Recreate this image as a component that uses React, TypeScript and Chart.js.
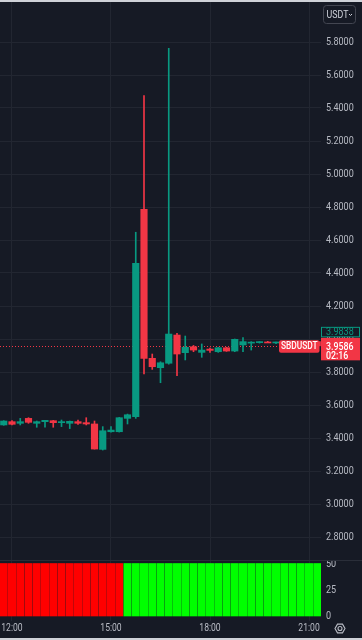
import React, { useEffect, useRef } from "react";
import { Chart, registerables } from "chart.js";
Chart.register(...registerables);

// ---- data ----
const CANDLE_INDEX = [-1, 0, 1, 2, 3, 4, 5, 6, 7, 8, 9, 10, 11, 12, 13, 14, 15, 16, 17, 18, 19, 20, 21, 22, 23, 24, 25, 26, 27, 28, 29, 30, 31, 32, 33, 34, 35, 36, 37];
const OPEN = [3.479, 3.499, 3.489, 3.519, 3.489, 3.499, 3.505, 3.493, 3.489, 3.499, 3.493, 3.485, 3.331, 3.438, 3.438, 3.519, 3.529, 4.786, 3.883, 3.826, 3.853, 4.024, 3.917, 3.953, 3.919, 3.939, 3.923, 3.947, 3.927, 3.964, 3.975, 3.978, 3.982, 3.976, 3.98, 3.975, 3.981, 3.978, 3.984];
const HIGH = [3.505, 3.505, 3.519, 3.523, 3.503, 3.507, 3.507, 3.509, 3.503, 3.509, 3.523, 3.503, 3.469, 3.469, 3.525, 3.545, 4.647, 5.475, 3.909, 3.862, 5.762, 4.034, 4.018, 3.961, 3.97, 3.945, 3.95, 3.95, 4.0, 4.008, 3.984, 3.984, 3.986, 3.982, 3.985, 3.984, 3.988, 3.986, 3.988];
const LOW = [3.477, 3.479, 3.479, 3.489, 3.465, 3.465, 3.465, 3.469, 3.457, 3.483, 3.479, 3.333, 3.327, 3.436, 3.436, 3.485, 3.519, 3.788, 3.816, 3.735, 3.848, 3.778, 3.873, 3.923, 3.889, 3.919, 3.919, 3.925, 3.923, 3.923, 3.933, 3.975, 3.978, 3.972, 3.97, 3.968, 3.972, 3.97, 3.955];
const CLOSE = [3.503, 3.483, 3.499, 3.495, 3.499, 3.507, 3.493, 3.497, 3.501, 3.489, 3.485, 3.333, 3.444, 3.448, 3.523, 3.541, 4.459, 3.883, 3.832, 3.856, 4.03, 3.909, 3.95, 3.933, 3.933, 3.931, 3.947, 3.927, 3.998, 3.984, 3.978, 3.981, 3.976, 3.98, 3.975, 3.981, 3.978, 3.9838, 3.9586];
const PRICE_TICKS = [2.8, 3.0, 3.2, 3.4, 3.6, 3.8, 4.0, 4.2, 4.4, 4.6, 4.8, 5.0, 5.2, 5.4, 5.6, 5.8];
const TIME_TICK_INDEX = [0, 12, 24, 36];
const TIME_LABELS = ["12:00", "15:00", "18:00", "21:00"];
const IND_VALUE = [50, 50, 50, 50, 50, 50, 50, 50, 50, 50, 50, 50, 50, 50, 50, 50, 50, 50, 50, 50, 50, 50, 50, 50, 50, 50, 50, 50, 50, 50, 50, 50, 50, 50, 50, 50, 50, 50, 50];
const IND_STATE = [-1, -1, -1, -1, -1, -1, -1, -1, -1, -1, -1, -1, -1, -1, -1, 1, 1, 1, 1, 1, 1, 1, 1, 1, 1, 1, 1, 1, 1, 1, 1, 1, 1, 1, 1, 1, 1, 1, 1];
const IND_TICKS = [0, 25, 50];
const LAST_PRICE = 3.9586;
const PREV_PRICE = 3.9838;
const COUNTDOWN = "02:16";
const SYMBOL = "SBDUSDT";
const CURRENCY = "USDT";

// ---- style ----
const BG = "#161a25";
const GRID = "#222631";
const TXT = "#b8bbc4";
const UP = "#089981";
const DOWN = "#f23645";
const FONT = "Roboto, 'Liberation Sans', sans-serif";

const X_MIN = -1.4545;
const X_MAX = 37.4545;

function rr(ctx: CanvasRenderingContext2D, x: number, y: number, w: number, h: number, r: number) {
  ctx.beginPath();
  ctx.moveTo(x + r, y);
  ctx.lineTo(x + w - r, y);
  ctx.arcTo(x + w, y, x + w, y + r, r);
  ctx.lineTo(x + w, y + h - r);
  ctx.arcTo(x + w, y + h, x + w - r, y + h, r);
  ctx.lineTo(x + r, y + h);
  ctx.arcTo(x, y + h, x, y + h - r, r);
  ctx.lineTo(x, y + r);
  ctx.arcTo(x, y, x + r, y, r);
  ctx.closePath();
}

// draws text with a horizontal squeeze (sx) around the anchor point
function txt(ctx: CanvasRenderingContext2D, s: string, x: number, y: number, font: string, color: string, align: CanvasTextAlign, sx: number) {
  ctx.save();
  ctx.font = font;
  ctx.fillStyle = color;
  ctx.textAlign = align;
  ctx.textBaseline = "middle";
  ctx.translate(x, y);
  ctx.scale(sx, 1);
  ctx.fillText(s, 0, 0);
  ctx.restore();
}

const mainOverlay = {
  id: "mainOverlay",
  beforeDatasetsDraw(chart: any) {
    const ctx = chart.ctx as CanvasRenderingContext2D;
    const y = Math.round(chart.scales.y.getPixelForValue(LAST_PRICE)) + 0.5;
    ctx.save();
    ctx.strokeStyle = DOWN;
    ctx.lineWidth = 1;
    ctx.setLineDash([1, 2]);
    ctx.beginPath();
    ctx.moveTo(0, y);
    ctx.lineTo(279, y);
    ctx.stroke();
    ctx.restore();
  },
  afterDraw(chart: any) {
    const ctx = chart.ctx as CanvasRenderingContext2D;
    const ys = chart.scales.y;
    // axis tick labels (from the axis ticks)
    ys.ticks.forEach((t: any, k: number) => {
      const lbl = ys._labelItems ? null : null;
      const y = ys.getPixelForValue(t.value);
      txt(ctx, Number(t.value).toFixed(4), 326, y + 0.5, `10.5px ${FONT}`, TXT, "left", 0.86);
    });
    const yl = ys.getPixelForValue(LAST_PRICE);
    ctx.save();
    // symbol tag
    ctx.fillStyle = DOWN;
    rr(ctx, 279, yl - 5.5, 40.5, 12.5, 2);
    ctx.fill();
    txt(ctx, SYMBOL, 299.3, yl + 0.9, `500 11px ${FONT}`, "#ffffff", "center", 0.76);
    // prev price box
    ctx.fillStyle = BG;
    ctx.fillRect(321, yl - 19, 39, 10);
    ctx.strokeStyle = UP;
    ctx.lineWidth = 1;
    ctx.strokeRect(321.5, yl - 18.5, 38, 9.5);
    txt(ctx, PREV_PRICE.toFixed(4), 326, yl - 13.3, `10.5px ${FONT}`, UP, "left", 0.86);
    // last price box
    ctx.fillStyle = DOWN;
    ctx.fillRect(321, yl - 8, 39, 22.5);
    txt(ctx, LAST_PRICE.toFixed(4), 326, yl + 1.4, `500 10.5px ${FONT}`, "#ffffff", "left", 0.84);
    txt(ctx, COUNTDOWN, 326, yl + 10.2, `500 10.5px ${FONT}`, "#ffffff", "left", 0.84);
    // currency button
    ctx.strokeStyle = "#434651";
    ctx.lineWidth = 1;
    rr(ctx, 323.5, 5.5, 32, 18, 3);
    ctx.stroke();
    txt(ctx, CURRENCY, 326.5, 15, `10.5px ${FONT}`, "#d1d4dc", "left", 0.84);
    ctx.strokeStyle = "#d1d4dc";
    ctx.beginPath();
    ctx.moveTo(349, 14);
    ctx.lineTo(350.5, 15.5);
    ctx.lineTo(352, 14);
    ctx.stroke();
    ctx.restore();
  },
};

const indOverlay = {
  id: "indOverlay",
  afterDraw(chart: any) {
    const ctx = chart.ctx as CanvasRenderingContext2D;
    const xs = chart.scales.x;
    const ys = chart.scales.y;
    xs.ticks.forEach((t: any) => {
      const k = TIME_TICK_INDEX.indexOf(t.value);
      if (k < 0) return;
      txt(ctx, TIME_LABELS[k], xs.getPixelForValue(t.value), 68.5, `10px ${FONT}`, TXT, "center", 0.86);
    });
    ys.ticks.forEach((t: any) => {
      txt(ctx, String(t.value), 326, ys.getPixelForValue(t.value) + 0.5, `10.5px ${FONT}`, TXT, "left", 0.86);
    });
    ctx.save();
    ctx.strokeStyle = "#2a2e39";
    ctx.lineWidth = 1;
    ctx.beginPath();
    ctx.moveTo(0, 0.5);
    ctx.lineTo(362, 0.5);
    ctx.stroke();
    // gear icon
    const cx = 340, cy = 68.5;
    ctx.strokeStyle = TXT;
    ctx.lineWidth = 1.1;
    ctx.beginPath();
    for (let k = 0; k < 6; k++) {
      const a = (Math.PI / 3) * k;
      const px = cx + 5 * Math.cos(a);
      const py = cy + 5 * Math.sin(a);
      if (k === 0) ctx.moveTo(px, py);
      else ctx.lineTo(px, py);
    }
    ctx.closePath();
    ctx.stroke();
    ctx.beginPath();
    ctx.arc(cx, cy, 2, 0, Math.PI * 2);
    ctx.stroke();
    ctx.restore();
  },
};

export default function App() {
  const mainRef = useRef<HTMLCanvasElement>(null);
  const indRef = useRef<HTMLCanvasElement>(null);

  useEffect(() => {
    const colors = CANDLE_INDEX.map((_, k) => (CLOSE[k] >= OPEN[k] ? UP : DOWN));
    const bodies = CANDLE_INDEX.map((x, k) => ({ x, y: [Math.min(OPEN[k], CLOSE[k]), Math.max(OPEN[k], CLOSE[k])] }));
    const wicks = CANDLE_INDEX.map((x, k) => ({ x, y: [LOW[k], HIGH[k]] }));

    const yMin = 4.2 - 254 / 165;
    const yMax = 4.2 + 306 / 165;

    const main = new Chart(mainRef.current as HTMLCanvasElement, {
      type: "bar",
      data: {
        datasets: [
          {
            data: wicks as any,
            backgroundColor: colors,
            barThickness: 1,
            grouped: false,
            order: 2,
            minBarLength: 1,
          } as any,
          {
            data: bodies as any,
            backgroundColor: colors,
            barThickness: 6.5,
            grouped: false,
            order: 1,
            minBarLength: 1,
          } as any,
        ],
      },
      plugins: [mainOverlay],
      options: {
        animation: false,
        responsive: false,
        maintainAspectRatio: false,
        devicePixelRatio: 1,
        layout: { padding: 0 },
        plugins: { legend: { display: false }, tooltip: { enabled: false } },
        scales: {
          x: {
            type: "linear",
            min: X_MIN,
            max: X_MAX,
            offset: false,
            grid: { color: GRID, offset: false, drawTicks: false },
            border: { display: false },
            ticks: { display: false },
            afterBuildTicks: (s: any) => {
              s.ticks = TIME_TICK_INDEX.map((v) => ({ value: v }));
            },
            afterFit: (s: any) => {
              s.height = 0;
              s.paddingLeft = 0;
              s.paddingRight = 0;
            },
          },
          y: {
            type: "linear",
            position: "right",
            min: yMin,
            max: yMax,
            beginAtZero: false,
            grid: { color: GRID, drawTicks: false },
            border: { display: false },
            ticks: { display: false },
            afterBuildTicks: (s: any) => {
              s.ticks = PRICE_TICKS.map((v) => ({ value: v }));
            },
            afterFit: (s: any) => {
              s.width = 41;
              s.paddingTop = 0;
              s.paddingBottom = 0;
            },
          },
        },
      } as any,
    });

    const ind = new Chart(indRef.current as HTMLCanvasElement, {
      type: "bar",
      data: {
        datasets: [
          {
            data: CANDLE_INDEX.map((x, k) => ({ x, y: IND_VALUE[k] })) as any,
            backgroundColor: IND_STATE.map((s) => (s > 0 ? "#00ff00" : "#ff0000")),
            barThickness: 7.3,
          } as any,
        ],
      },
      plugins: [indOverlay],
      options: {
        animation: false,
        responsive: false,
        maintainAspectRatio: false,
        devicePixelRatio: 1,
        layout: { padding: 0 },
        plugins: { legend: { display: false }, tooltip: { enabled: false } },
        scales: {
          x: {
            type: "linear",
            min: X_MIN,
            max: X_MAX,
            offset: false,
            grid: { color: GRID, offset: false, drawTicks: false },
            border: { display: false },
            ticks: { display: false },
            afterBuildTicks: (s: any) => {
              s.ticks = TIME_TICK_INDEX.map((v) => ({ value: v }));
            },
            afterFit: (s: any) => {
              s.height = 19;
              s.paddingLeft = 0;
              s.paddingRight = 0;
            },
          },
          y: {
            type: "linear",
            position: "right",
            min: -5 / 1.05,
            max: 50 + 3.5 / 1.05,
            beginAtZero: false,
            grid: { display: false, drawTicks: false },
            border: { display: false },
            ticks: { display: false },
            afterBuildTicks: (s: any) => {
              s.ticks = IND_TICKS.map((v) => ({ value: v }));
            },
            afterFit: (s: any) => {
              s.width = 41;
              s.paddingTop = 0;
              s.paddingBottom = 0;
            },
          },
        },
      } as any,
    });

    return () => {
      main.destroy();
      ind.destroy();
    };
  }, []);

  return (
    <div style={{ position: "fixed", left: 0, top: 0, width: 362, height: 640, background: BG, overflow: "hidden" }}>
      <canvas ref={mainRef} width={362} height={560} style={{ position: "absolute", left: 0, top: 0, width: 362, height: 560 }} />
      <canvas ref={indRef} width={362} height={80} style={{ position: "absolute", left: 0, top: 560, width: 362, height: 80 }} />
      <div style={{ position: "absolute", left: 0, top: 0, width: 362, height: 2, background: "#cfd2d8" }} />
      <div style={{ position: "absolute", left: 0, top: 638, width: 362, height: 2, background: "#cfd2d8" }} />
    </div>
  );
}
